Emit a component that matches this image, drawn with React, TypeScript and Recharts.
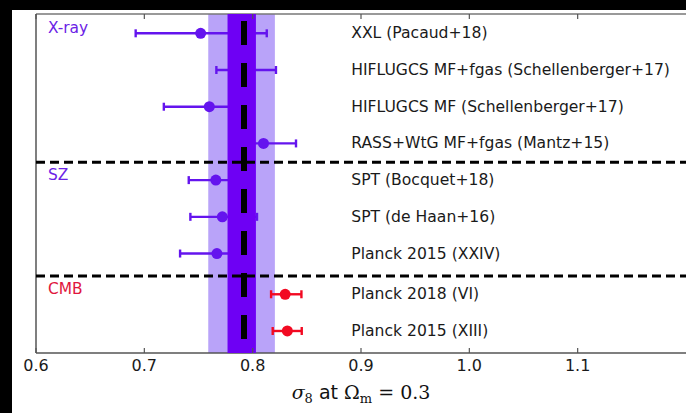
import React from "react";
import {
  ComposedChart,
  Scatter,
  XAxis,
  YAxis,
  ErrorBar,
  ReferenceArea,
  ReferenceLine,
  Label,
} from "recharts";

const surveyNames = [
  "XXL (Pacaud+18)",
  "HIFLUGCS MF+fgas (Schellenberger+17)",
  "HIFLUGCS MF (Schellenberger+17)",
  "RASS+WtG MF+fgas (Mantz+15)",
  "SPT (Bocquet+18)",
  "SPT (de Haan+16)",
  "Planck 2015 (XXIV)",
  "Planck 2018 (VI)",
  "Planck 2015 (XIII)",
];
const rowPositions = [0, 1, 2, 3, 4, 5, 6, 7.11, 8.11];
const sigma8Values = [0.752, 0.794, 0.76, 0.81, 0.766, 0.772, 0.767, 0.83, 0.832];
const errorsLow = [0.06, 0.0275, 0.042, 0.03, 0.025, 0.0295, 0.034, 0.013, 0.0135];
const errorsHigh = [0.061, 0.0275, 0.04, 0.03, 0.025, 0.032, 0.033, 0.015, 0.0133];
const probeOfRow = ["X-ray", "X-ray", "X-ray", "X-ray", "SZ", "SZ", "SZ", "CMB", "CMB"];

const probeNames = ["X-ray", "SZ", "CMB"];
const probeLabelRows = [-0.15, 3.86, 6.97];
const probeLabelColors = ["#6b22e6", "#6b22e6", "#e0163e"];
const purple = "#6414ee";
const red = "#f20a22";
const separatorRows = [3.51, 6.61];
const xTicks = [0.6, 0.7, 0.8, 0.9, 1.0, 1.1];
const xDomain = [0.6, 1.2];
const yDomain = [-0.526, 8.71];
const bandOuter = [0.759, 0.8205];
const bandInner = [0.7768, 0.803];
const referenceSigma8 = 0.792;
const nameLabelX = 0.891;
const probeLabelX = 0.611;

const rows = surveyNames.map((name, i) => ({
  name,
  x: sigma8Values[i],
  y: rowPositions[i],
  err: [errorsLow[i], errorsHigh[i]],
  probe: probeOfRow[i],
}));
const clusterRows = rows.filter((r) => r.probe !== "CMB");
const cmbRows = rows.filter((r) => r.probe === "CMB");
const nameRows = rows.map((r) => ({ x: nameLabelX, y: r.y, name: r.name }));
const probeRows = probeNames.map((n, i) => ({
  x: probeLabelX,
  y: probeLabelRows[i],
  name: n,
  color: probeLabelColors[i],
}));

const FONT = "'DejaVu Sans', 'Bitstream Vera Sans', sans-serif";

const BottomTick = (props: any) => {
  const { x, y, payload } = props;
  return (
    <g>
      <line x1={x} x2={x} y1={y} y2={y - 5} stroke="#555" strokeWidth={1.2} />
      <text x={x} y={y + 18} textAnchor="middle" fontSize={16} fontFamily={FONT} fill="#1a1a1a">
        {Number(payload.value).toFixed(1)}
      </text>
    </g>
  );
};

const TopTick = (props: any) => {
  const { x, y } = props;
  return <line x1={x} x2={x} y1={y} y2={y + 5} stroke="#555" strokeWidth={1.2} />;
};

const renderTitle = (props: any) => {
  const vb = props.viewBox || { x: 0, y: 0, width: 0, height: 0 };
  const cx = vb.x + vb.width / 2;
  const y = vb.y + 46;
  return (
    <text x={cx} y={y} textAnchor="middle" fontSize={19} fill="#111" style={{ whiteSpace: "pre" }}>
      <tspan fontFamily="'DejaVu Serif', serif" fontStyle="italic">σ</tspan>
      <tspan fontFamily="'DejaVu Serif', serif" fontSize={13} dy={4}>8</tspan>
      <tspan fontFamily={FONT} dy={-4}>{" at "}</tspan>
      <tspan fontFamily="'DejaVu Serif', serif">Ω</tspan>
      <tspan fontFamily="'DejaVu Serif', serif" fontSize={13} dy={4}>m</tspan>
      <tspan fontFamily="'DejaVu Serif', serif" dy={-4}>{" = 0.3"}</tspan>
    </text>
  );
};

const dot = (color: string) => (p: any) => <circle cx={p.cx} cy={p.cy} r={5.5} fill={color} />;

const nameShape = (p: any) => (
  <text
    x={p.cx}
    y={p.cy}
    dominantBaseline="central"
    fontSize={15.6}
    fontFamily={FONT}
    fill="#1a1a1a"
  >
    {p.payload.name}
  </text>
);

const probeShape = (p: any) => (
  <text
    x={p.cx}
    y={p.cy}
    dominantBaseline="central"
    fontSize={15.4}
    fontFamily={FONT}
    fill={p.payload.color}
  >
    {p.payload.name}
  </text>
);

export default function App() {
  return (
    <div
      style={{
        position: "fixed",
        left: 0,
        top: 0,
        width: 686,
        height: 413,
        background: "#000",
        overflow: "hidden",
      }}
    >
      <div
        style={{
          position: "absolute",
          left: 12,
          top: 10,
          width: 674,
          height: 403,
          background: "#fff",
          overflow: "hidden",
        }}
      >
        <ComposedChart
          width={682}
          height={403}
          margin={{ top: 3, left: 23, right: 8, bottom: 59 }}
        >
          <XAxis
            xAxisId="b"
            type="number"
            dataKey="x"
            domain={xDomain}
            ticks={xTicks}
            interval={0}
            allowDataOverflow
            height={1}
            tickSize={0}
            tickMargin={0}
            tickLine={false}
            tick={<BottomTick />}
            axisLine={{ stroke: "#555", strokeWidth: 1.5 }}
          >
            <Label content={renderTitle} />
          </XAxis>
          <XAxis
            xAxisId="t"
            orientation="top"
            type="number"
            dataKey="x"
            domain={xDomain}
            ticks={xTicks}
            interval={0}
            allowDataOverflow
            height={1}
            tickSize={0}
            tickMargin={0}
            tickLine={false}
            tick={<TopTick />}
            axisLine={{ stroke: "#777", strokeWidth: 1.5 }}
          />
          <YAxis
            yAxisId="l"
            type="number"
            dataKey="y"
            domain={yDomain}
            reversed
            allowDataOverflow
            width={1}
            tick={false}
            tickLine={false}
            axisLine={{ stroke: "#555", strokeWidth: 1.5 }}
          />
          <ReferenceArea
            xAxisId="b"
            yAxisId="l"
            x1={bandOuter[0]}
            x2={bandOuter[1]}
            fill="#b9a3f9"
            fillOpacity={1}
            stroke="none"
            zIndex={50}
          />
          <Scatter
            xAxisId="b"
            yAxisId="l"
            data={clusterRows}
            fill={purple}
            shape={dot(purple)}
            isAnimationActive={false}
          >
            <ErrorBar dataKey="err" direction="x" width={4} strokeWidth={2.4} stroke={purple} isAnimationActive={false} />
          </Scatter>
          <Scatter
            xAxisId="b"
            yAxisId="l"
            data={cmbRows}
            fill={red}
            shape={dot(red)}
            isAnimationActive={false}
          >
            <ErrorBar dataKey="err" direction="x" width={4} strokeWidth={2.4} stroke={red} isAnimationActive={false} />
          </Scatter>
          <ReferenceArea
            xAxisId="b"
            yAxisId="l"
            x1={bandInner[0]}
            x2={bandInner[1]}
            fill="#6e00f4"
            fillOpacity={1}
            stroke="none"
            zIndex={700}
          />
          <ReferenceLine
            xAxisId="b"
            yAxisId="l"
            x={referenceSigma8}
            stroke="#000"
            strokeWidth={6}
            strokeDasharray="24 18"
            strokeDashoffset={28}
            zIndex={800}
          />
          {separatorRows.map((r) => (
            <ReferenceLine
              key={r}
              xAxisId="b"
              yAxisId="l"
              y={r}
              stroke="#000"
              strokeWidth={3}
              strokeDasharray="9 5"
              zIndex={800}
            />
          ))}
          <Scatter
            xAxisId="b"
            yAxisId="l"
            data={nameRows}
            shape={nameShape}
            isAnimationActive={false}
          />
          <Scatter
            xAxisId="b"
            yAxisId="l"
            data={probeRows}
            shape={probeShape}
            isAnimationActive={false}
          />
        </ComposedChart>
      </div>
    </div>
  );
}
